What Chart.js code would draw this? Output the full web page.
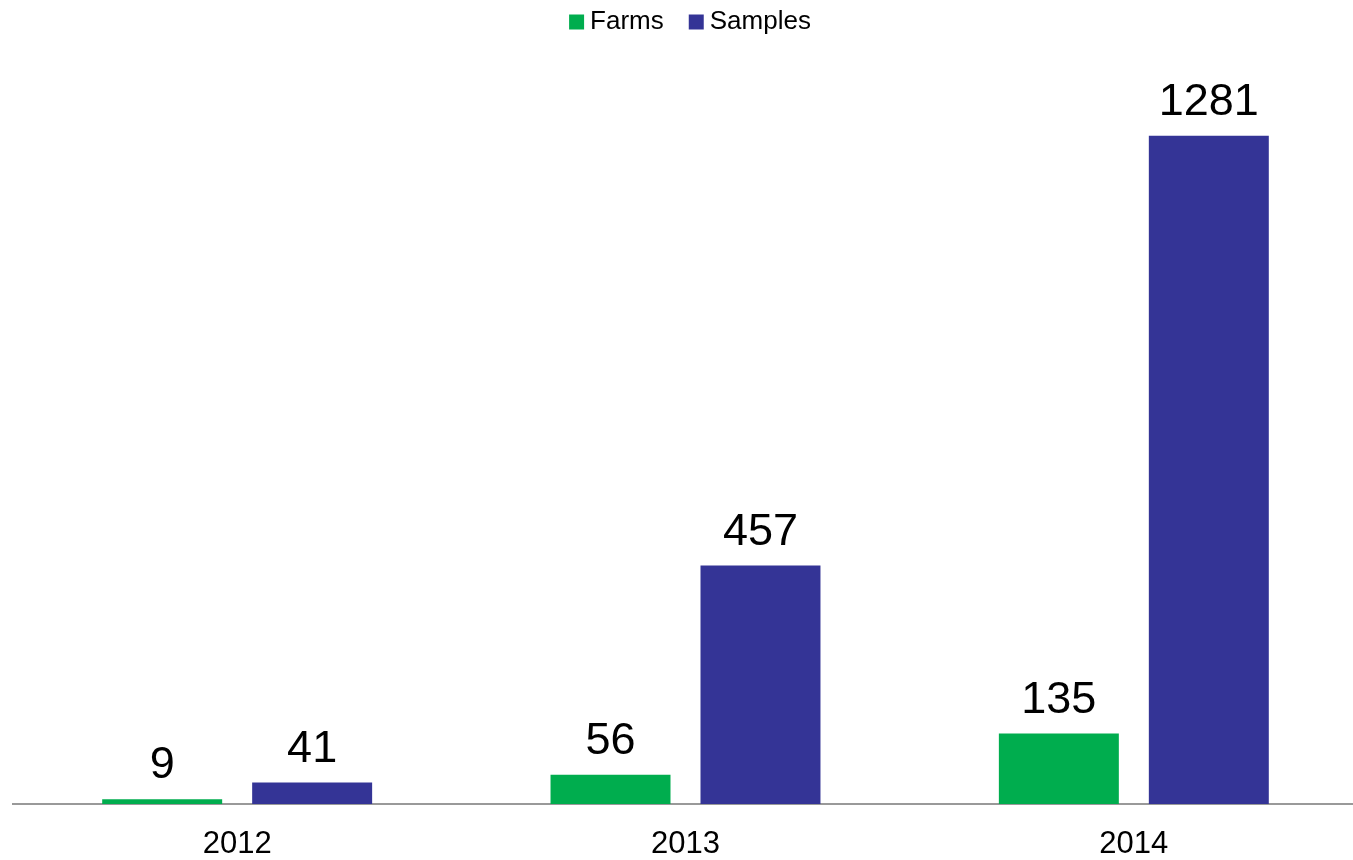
<!DOCTYPE html>
<html>
<head>
<meta charset="utf-8">
<script src="https://cdn.jsdelivr.net/npm/chart.js@4/dist/chart.umd.min.js"></script>
<style>
  html, body { margin: 0; padding: 0; background: #fff; overflow: hidden; }
  #wrap { width: 1374px; height: 860px; position: relative; }
</style>
</head>
<body>
<div id="wrap"><canvas id="barChart"></canvas></div>
<script>
const years = ["2012", "2013", "2014"];
const farms = [9, 56, 135];
const samples = [41, 457, 1281];

const FONT = "'Liberation Sans', Arial, sans-serif";

// подписи значений над столбиками
const valueLabels = {
    id: "valueLabels",
    afterDatasetsDraw(chart) {
        const ctx = chart.ctx;
        ctx.save();
        ctx.font = "45px " + FONT;
        ctx.fillStyle = "#000";
        ctx.textAlign = "center";
        ctx.textBaseline = "alphabetic";
        chart.data.datasets.forEach((ds, i) => {
            chart.getDatasetMeta(i).data.forEach((bar, j) => {
                ctx.fillText(ds.data[j], bar.x, bar.y - 21);
            });
        });
        ctx.restore();
    }
};

new Chart(document.getElementById("barChart"), {
    type: "bar",
    data: {
        labels: years,
        datasets: [
            { label: "Farms", data: farms, backgroundColor: "#00AD4E" },
            { label: "Samples", data: samples, backgroundColor: "#343496" }
        ]
    },
    options: {
        responsive: true,
        maintainAspectRatio: false,
        animation: false,
        categoryPercentage: 0.669,
        barPercentage: 0.8,
        layout: { padding: { left: 13, right: 0, top: -23, bottom: 0 } },
        plugins: {
            tooltip: { enabled: false },
            legend: {
                position: "top",
                labels: {
                    font: { family: FONT, size: 26 },
                    color: "#000",
                    usePointStyle: true,
                    pointStyle: "rect",
                    boxWidth: 1,
                    boxHeight: 15,
                    padding: 32
                }
            }
        },
        scales: {
            x: {
                grid: { display: false },
                border: { color: "#999", width: 2 },
                ticks: {
                    color: "#000",
                    font: { family: FONT, size: 31 },
                    padding: 14
                },
                afterFit(scale) { scale.height = 56; }
            },
            y: {
                position: "right",
                min: 0,
                max: 1455,
                grid: { display: false },
                border: { display: false },
                ticks: { display: false },
                afterFit(scale) { scale.width = 16; }
            }
        }
    },
    plugins: [valueLabels]
});
</script>
</body>
</html>
